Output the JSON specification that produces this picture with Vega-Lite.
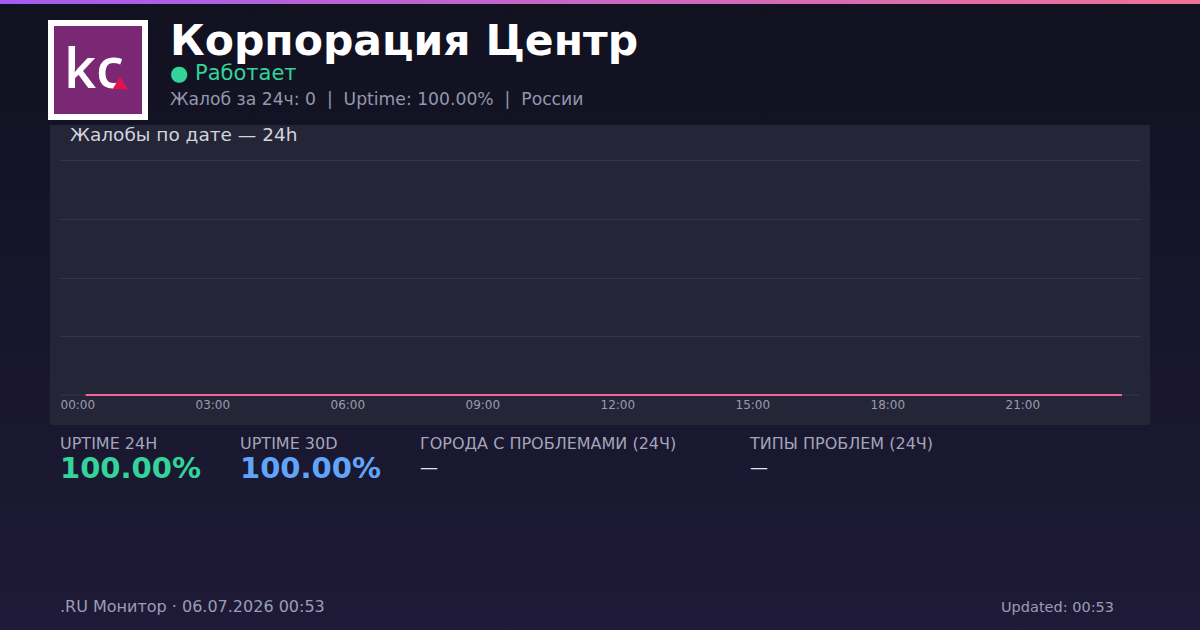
{
  "$schema": "https://vega.github.io/schema/vega-lite/v6.json",
  "width": 1080,
  "height": 235,
  "autosize": "none",
  "padding": {"left": 60, "top": 160, "right": 60, "bottom": 235},
  "background": "#17162a",
  "config": {"view": {"stroke": null}, "font": "DejaVu Sans"},
  "layer": [
    {
      "data": {"values": [{}]},
      "mark": {"type": "rect", "clip": false, "fill": {"gradient": "linear", "x1": 0, "y1": 0, "x2": 0, "y2": 1, "stops": [{"offset": 0, "color": "#111120"}, {"offset": 1, "color": "#1e1a37"}]}},
      "encoding": {"x": {"value": -60}, "x2": {"value": 1140}, "y": {"value": -160}, "y2": {"value": 470}}
    },
    {
      "data": {"values": [{}]},
      "mark": {"type": "rect", "fill": {"gradient": "linear", "x1": 0, "y1": 0, "x2": 1, "y2": 0, "stops": [{"offset": 0, "color": "#a35cf0"}, {"offset": 1, "color": "#f07296"}]}},
      "encoding": {"x": {"value": -60}, "x2": {"value": 1140}, "y": {"value": -160}, "y2": {"value": -156}}
    },
    {
      "data": {"values": [{}]},
      "mark": {"type": "rect", "fill": "#ffffff"},
      "encoding": {"x": {"value": -12}, "x2": {"value": 88}, "y": {"value": -140}, "y2": {"value": -40}}
    },
    {
      "data": {"values": [{}]},
      "mark": {"type": "rect", "fill": "#7b2874"},
      "encoding": {"x": {"value": -6}, "x2": {"value": 82}, "y": {"value": -134}, "y2": {"value": -46}}
    },
    {
      "data": {"values": [{"t": "kc"}]},
      "mark": {"type": "text", "font": "Open Sans", "fontWeight": 600, "fontSize": 56, "color": "#ffffff", "align": "left", "baseline": "alphabetic"},
      "encoding": {"text": {"field": "t"}, "x": {"value": 4}, "y": {"value": -72}}
    },
    {
      "data": {"values": [{}]},
      "mark": {"type": "point", "shape": "triangle-right", "filled": true, "color": "#e2124f", "opacity": 1, "size": 230, "angle": 30},
      "encoding": {"x": {"value": 62}, "y": {"value": -74}}
    },
    {
      "data": {"values": [{"t": "Корпорация Центр"}]},
      "mark": {"type": "text", "fontSize": 42.5, "fontWeight": "bold", "color": "#ffffff", "align": "left", "baseline": "alphabetic"},
      "encoding": {"text": {"field": "t"}, "x": {"value": 110}, "y": {"value": -105}}
    },
    {
      "data": {"values": [{"t": "● Работает"}]},
      "mark": {"type": "text", "fontSize": 21, "color": "#34d399", "align": "left", "baseline": "alphabetic"},
      "encoding": {"text": {"field": "t"}, "x": {"value": 110}, "y": {"value": -80}}
    },
    {
      "data": {"values": [{"t": "Жалоб за 24ч: 0\u00a0\u00a0|\u00a0\u00a0Uptime: 100.00%\u00a0\u00a0|\u00a0\u00a0России"}]},
      "mark": {"type": "text", "fontSize": 17.2, "color": "#9497ad", "align": "left", "baseline": "alphabetic"},
      "encoding": {"text": {"field": "t"}, "x": {"value": 110}, "y": {"value": -55}}
    },
    {
      "data": {"values": [{}]},
      "mark": {"type": "rect", "fill": "#252538"},
      "encoding": {"x": {"value": -10}, "x2": {"value": 1090}, "y": {"value": -35}, "y2": {"value": 265}}
    },
    {
      "data": {"values": [{"t": "Жалобы по дате — 24h"}]},
      "mark": {"type": "text", "fontSize": 18.5, "color": "#d2d3de", "align": "left", "baseline": "alphabetic"},
      "encoding": {"text": {"field": "t"}, "x": {"value": 10}, "y": {"value": -19}}
    },
    {
      "data": {"values": [{}]},
      "mark": {"type": "rule", "color": "#373749", "strokeWidth": 1},
      "encoding": {
        "y": {"datum": 0, "type": "quantitative", "scale": {"domain": [0, 4], "nice": false, "zero": true},
              "axis": {"values": [1, 2, 3, 4], "grid": true, "gridColor": "#373749", "gridWidth": 1, "labels": false, "ticks": false, "domain": false, "title": null, "zindex": 1}}
      }
    },
    {
      "data": {"values": [
        {"hour": 0.57, "count": 0}, {"hour": 1.57, "count": 0}, {"hour": 2.57, "count": 0}, {"hour": 3.57, "count": 0},
        {"hour": 4.57, "count": 0}, {"hour": 5.57, "count": 0}, {"hour": 6.57, "count": 0}, {"hour": 7.57, "count": 0},
        {"hour": 8.57, "count": 0}, {"hour": 9.57, "count": 0}, {"hour": 10.57, "count": 0}, {"hour": 11.57, "count": 0},
        {"hour": 12.57, "count": 0}, {"hour": 13.57, "count": 0}, {"hour": 14.57, "count": 0}, {"hour": 15.57, "count": 0},
        {"hour": 16.57, "count": 0}, {"hour": 17.57, "count": 0}, {"hour": 18.57, "count": 0}, {"hour": 19.57, "count": 0},
        {"hour": 20.57, "count": 0}, {"hour": 21.57, "count": 0}, {"hour": 22.57, "count": 0}, {"hour": 23.6, "count": 0}
      ]},
      "mark": {"type": "line", "color": "#f062a0", "strokeWidth": 2},
      "encoding": {
        "x": {"field": "hour", "type": "quantitative", "scale": {"domain": [0, 24], "nice": false, "zero": false},
              "axis": {"values": [0, 3, 6, 9, 12, 15, 18, 21], "labelExpr": "(datum.value < 10 ? '0' : '') + datum.value + ':00'", "grid": false, "domain": false, "ticks": false, "labelAlign": "left", "labelDx": 6, "labelPadding": 4, "labelColor": "#9a9bb0", "labelFontSize": 12, "labelFont": "DejaVu Sans", "labelFlush": false, "labelOverlap": false, "title": null, "zindex": 1}},
        "y": {"field": "count", "type": "quantitative", "scale": {"domain": [0, 4], "nice": false, "zero": true},
              "axis": {"values": [1, 2, 3, 4], "grid": true, "gridColor": "#373749", "gridWidth": 1, "labels": false, "ticks": false, "domain": false, "title": null, "zindex": 1}}
      }
    },
    {
      "data": {"values": [{"t": "UPTIME 24H"}]},
      "mark": {"type": "text", "fontSize": 16, "color": "#a3a5b9", "align": "left", "baseline": "alphabetic"},
      "encoding": {"text": {"field": "t"}, "x": {"value": 0}, "y": {"value": 289}}
    },
    {
      "data": {"values": [{"t": "UPTIME 30D"}]},
      "mark": {"type": "text", "fontSize": 16, "color": "#a3a5b9", "align": "left", "baseline": "alphabetic"},
      "encoding": {"text": {"field": "t"}, "x": {"value": 180}, "y": {"value": 289}}
    },
    {
      "data": {"values": [{"t": "ГОРОДА С ПРОБЛЕМАМИ (24Ч)"}]},
      "mark": {"type": "text", "fontSize": 16, "color": "#a3a5b9", "align": "left", "baseline": "alphabetic"},
      "encoding": {"text": {"field": "t"}, "x": {"value": 360}, "y": {"value": 289}}
    },
    {
      "data": {"values": [{"t": "ТИПЫ ПРОБЛЕМ (24Ч)"}]},
      "mark": {"type": "text", "fontSize": 16, "color": "#a3a5b9", "align": "left", "baseline": "alphabetic"},
      "encoding": {"text": {"field": "t"}, "x": {"value": 690}, "y": {"value": 289}}
    },
    {
      "data": {"values": [{"t": "100.00%"}]},
      "mark": {"type": "text", "fontSize": 29, "fontWeight": "bold", "color": "#34d399", "align": "left", "baseline": "alphabetic"},
      "encoding": {"text": {"field": "t"}, "x": {"value": 0}, "y": {"value": 318}}
    },
    {
      "data": {"values": [{"t": "100.00%"}]},
      "mark": {"type": "text", "fontSize": 29, "fontWeight": "bold", "color": "#60a5fa", "align": "left", "baseline": "alphabetic"},
      "encoding": {"text": {"field": "t"}, "x": {"value": 180}, "y": {"value": 318}}
    },
    {
      "data": {"values": [{"t": "—"}]},
      "mark": {"type": "text", "fontSize": 18, "color": "#dfe1ee", "align": "left", "baseline": "alphabetic"},
      "encoding": {"text": {"field": "t"}, "x": {"value": 360}, "y": {"value": 313}}
    },
    {
      "data": {"values": [{"t": "—"}]},
      "mark": {"type": "text", "fontSize": 18, "color": "#dfe1ee", "align": "left", "baseline": "alphabetic"},
      "encoding": {"text": {"field": "t"}, "x": {"value": 690}, "y": {"value": 313}}
    },
    {
      "data": {"values": [{"t": ".RU Монитор · 06.07.2026 00:53"}]},
      "mark": {"type": "text", "fontSize": 16, "color": "#9b9db4", "align": "left", "baseline": "alphabetic"},
      "encoding": {"text": {"field": "t"}, "x": {"value": 0}, "y": {"value": 452}}
    },
    {
      "data": {"values": [{"t": "Updated: 00:53"}]},
      "mark": {"type": "text", "fontSize": 14.5, "color": "#9b9db4", "align": "right", "baseline": "alphabetic"},
      "encoding": {"text": {"field": "t"}, "x": {"value": 1054}, "y": {"value": 452}}
    }
  ]
}
